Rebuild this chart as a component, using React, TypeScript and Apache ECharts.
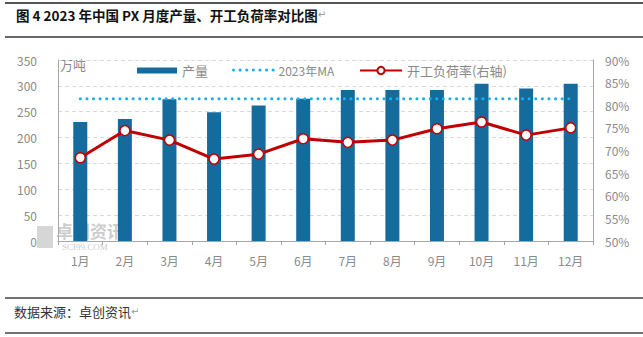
import React, { useEffect, useRef } from "react";
import * as echarts from "echarts";

const months = ["1月", "2月", "3月", "4月", "5月", "6月", "7月", "8月", "9月", "10月", "11月", "12月"];
const output = [230, 236, 274, 249, 262, 275, 292, 292, 292, 304, 295, 304];
const maLine = [275, 275, 275, 275, 275, 275, 275, 275, 275, 275, 275, 275];
const rate = [68.4, 74.4, 72.3, 68.1, 69.2, 72.6, 71.8, 72.3, 74.8, 76.3, 73.4, 75.0];

const titleText = "图 4 2023 年中国 PX 月度产量、开工负荷率对比图";
const sourceText = "数据来源：卓创资讯";

export default function App() {
  const ref = useRef<HTMLDivElement>(null);
  useEffect(() => {
    const chart = echarts.init(ref.current!, null, { renderer: "svg" });
    const gray = "#8a8a8a";
    const font = "'Noto Sans CJK SC', 'Noto Sans', sans-serif";
    chart.setOption({
      animation: false,
      textStyle: { fontFamily: font },
      grid: { left: 58, right: 50, top: 60, height: 181, containLabel: false },
      legend: [
        {
          data: [{ name: "产量", icon: "rect" }],
          left: 132, top: 59, itemWidth: 40, itemHeight: 6, itemGap: 4,
          textStyle: { color: gray, fontSize: 13, fontFamily: font },
        },
        {
          data: ["2023年MA"],
          left: 227, top: 59, itemWidth: 40, itemHeight: 8,
          itemStyle: { opacity: 0 },
          lineStyle: { color: "#19b0ee", width: 3, type: [0.1, 6.5], cap: "round" },
          textStyle: { color: gray, fontSize: 12, fontFamily: font },
        },
        {
          data: ["开工负荷率(右轴)"],
          left: 354, top: 59, itemWidth: 42, itemHeight: 9,
          textStyle: { color: gray, fontSize: 13, fontFamily: font },
        },
      ],
      xAxis: {
        type: "category",
        data: months,
        boundaryGap: true,
        axisLine: { lineStyle: { color: "#a6a6a6", width: 1 } },
        axisTick: { show: true, alignWithLabel: false, length: 4, lineStyle: { color: "#a6a6a6" } },
        axisLabel: { color: gray, fontSize: 12, margin: 13 },
      },
      yAxis: [
        {
          type: "value", min: 0, max: 350, interval: 50,
          axisLine: { show: true, lineStyle: { color: "#a6a6a6" } },
          axisTick: { show: false },
          axisLabel: { color: gray, fontSize: 12, margin: 21 },
          splitLine: { lineStyle: { color: "#d9d9d9", type: [4, 3] } },
        },
        {
          type: "value", min: 50, max: 90, interval: 5, position: "right",
          axisLine: { show: true, lineStyle: { color: "#a6a6a6" } },
          axisTick: { show: false },
          axisLabel: { color: gray, fontSize: 12, margin: 12, formatter: "{value}%" },
          splitLine: { show: false },
        },
      ],
      series: [
        {
          name: "产量", type: "bar", data: output, barWidth: 14,
          itemStyle: { color: "#156c9c" }, z: 2,
        },
        {
          name: "2023年MA", type: "line", data: maLine, symbol: "none",
          lineStyle: { color: "#19b0ee", width: 3, type: [0.1, 6.5], cap: "round" },
          itemStyle: { color: "#19b0ee" }, z: 3,
        },
        {
          name: "开工负荷率(右轴)", type: "line", yAxisIndex: 1, data: rate,
          symbol: "circle", symbolSize: 10,
          lineStyle: { color: "#c00000", width: 3 },
          itemStyle: { color: "#ffffff", borderColor: "#c00000", borderWidth: 1.5 },
          z: 4,
        },
      ],
      graphic: [
        { type: "line", shape: { x1: 5, y1: 3, x2: 643, y2: 3 }, style: { stroke: "#555", lineWidth: 2 } },
        { type: "line", shape: { x1: 5, y1: 37, x2: 643, y2: 37 }, style: { stroke: "#666", lineWidth: 2 } },
        { type: "line", shape: { x1: 5, y1: 298, x2: 643, y2: 298 }, style: { stroke: "#444", lineWidth: 1.5 } },
        { type: "line", shape: { x1: 5, y1: 333, x2: 643, y2: 333 }, style: { stroke: "#444", lineWidth: 1.5 } },
        {
          type: "text", left: 16, top: 8,
          style: {
            text: "{a|" + titleText + "}{b|↵}",
            rich: {
              a: { fill: "#111", color: "#111", fontWeight: "bold", fontSize: 13.5, fontFamily: "'Noto Sans CJK SC', sans-serif" },
              b: { fill: "#999", color: "#999", fontSize: 10, fontFamily: "'DejaVu Sans', sans-serif" },
            },
          },
        },
        {
          type: "text", left: 14, top: 305,
          style: {
            text: "{a|" + sourceText + "}{b|↵}",
            rich: {
              a: { color: "#333", fill: "#333", fontSize: 13, fontFamily: "'Noto Sans CJK SC', sans-serif" },
              b: { color: "#999", fill: "#999", fontSize: 10, fontFamily: "'DejaVu Sans', sans-serif" },
            },
          },
        },
        {
          type: "text", left: 60, top: 58,
          style: { text: "万吨", fill: gray, font: "13px 'Noto Sans CJK SC', sans-serif" },
        },
        {
          type: "rect", shape: { x: 37, y: 226, width: 16, height: 22 },
          style: { fill: "rgba(180,180,180,0.55)" }, z: 0,
        },
        {
          type: "text", left: 56, top: 222, z: 0,
          style: { text: "卓创资讯", fill: "rgba(175,175,175,0.65)", font: "bold 17px 'Noto Sans CJK SC', sans-serif" },
        },
        {
          type: "text", left: 62, top: 242, z: 0,
          style: { text: "SCI99.COM", fill: "rgba(175,175,175,0.7)", font: "9px 'Liberation Serif', serif" },
        },
      ],
    });
    return () => chart.dispose();
  }, []);
  return (
    <div
      ref={ref}
      style={{ position: "fixed", left: 0, top: 0, width: 643, height: 337, background: "#fff" }}
    />
  );
}
